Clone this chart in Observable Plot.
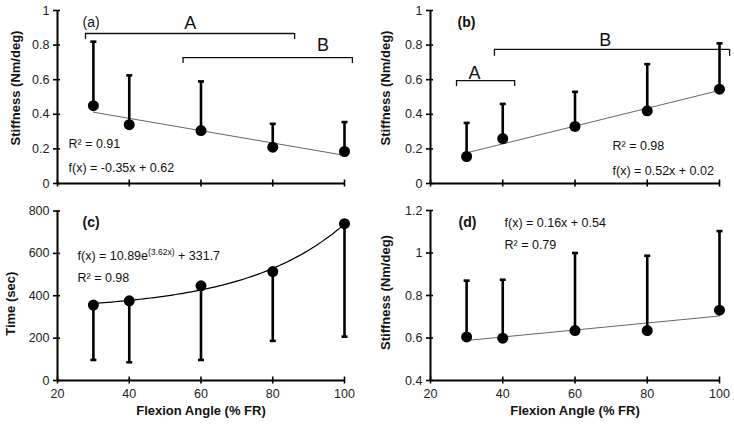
<!DOCTYPE html>
<html>
<head>
<meta charset="utf-8">
<script src="https://cdn.jsdelivr.net/npm/d3@7"></script>
<script src="https://cdn.jsdelivr.net/npm/@observablehq/plot@0.6"></script>
<style>
  html, body { margin: 0; padding: 0; background: #fff; }
  #chart { position: relative; width: 734px; height: 424px; overflow: hidden; }
  #chart svg { position: absolute; }
</style>
</head>
<body>
<div id="chart"></div>
<script>
// ---------- data ----------
const flexion = [30, 40, 60, 80, 100];
const xTicks = [20, 40, 60, 80, 100];

const aMean = [0.45, 0.34, 0.306, 0.21, 0.185];
const aUpper = [0.82, 0.625, 0.59, 0.345, 0.355];

const bMean = [0.156, 0.26, 0.33, 0.42, 0.545];
const bUpper = [0.35, 0.46, 0.53, 0.69, 0.81];

const cMean = [356, 376, 447, 514, 740];
const cLower = [97, 86, 97, 187, 207];

const dMean = [0.605, 0.599, 0.635, 0.635, 0.731];
const dUpper = [0.87, 0.874, 1.0, 0.987, 1.103];

const stiffTicks = [0, 0.2, 0.4, 0.6, 0.8, 1];
const timeTicks = [0, 200, 400, 600, 800];
const dTicks = [0.4, 0.6, 0.8, 1, 1.2];

// exponential fit shown in panel (c): f(x) = 10.89 e^(3.62x) + 331.7, x = fraction of FR
const cFitA = 10.89, cFitB = 3.62, cFitC = 331.7;

// group brackets
const aBrackets = [
  {label: "A", from: 27.8, to: 86.1, level: 0.867, drop: 0.035, labelX: 57, labelY: 0.925},
  {label: "B", from: 55, to: 102.2, level: 0.728, drop: 0.035, labelX: 94, labelY: 0.80}
];
const bBrackets = [
  {label: "B", from: 37.7, to: 102.8, level: 0.775, drop: 0.04, labelX: 68.4, labelY: 0.83},
  {label: "A", from: 27.2, to: 43.3, level: 0.595, drop: 0.035, labelX: 32.2, labelY: 0.64}
];

// ---------- helpers ----------
const font = "'Liberation Sans', Arial, Helvetica, sans-serif";
const capSymbol = {
  draw(ctx, size) {
    const w = Math.sqrt(size / Math.PI);
    ctx.moveTo(-w, 0);
    ctx.lineTo(w, 0);
  }
};
const rows = (means, bounds) => flexion.map((x, i) => ({x, m: means[i], b: bounds[i]}));

function bracketMarks(br) {
  return [
    Plot.ruleY(br, {y: "level", x1: "from", x2: "to", stroke: "#111", strokeWidth: 1.3}),
    Plot.ruleX(br, {x: "from", y1: "level", y2: d => d.level - d.drop, stroke: "#111", strokeWidth: 1.3}),
    Plot.ruleX(br, {x: "to", y1: "level", y2: d => d.level - d.drop, stroke: "#111", strokeWidth: 1.3}),
    Plot.text(br, {x: "labelX", y: "labelY", text: "label", fontSize: 18, fill: "#111"})
  ];
}

function note(text, dx, dy, extra = {}) {
  return Plot.text([text], {frameAnchor: "top-left", textAnchor: "start", dx, dy, fontSize: 12.5, fill: "#111", ...extra});
}

function panel({left, top, width, height, ml, mr, mt, mb, yDomain, yTicks, showX, marks, yLabel, yLabelDx, yLabelDy}) {
  const all = [
    ...marks,
    Plot.ruleX([20], {y1: yDomain[0], y2: yDomain[1], stroke: "#000", strokeWidth: 2}),
    Plot.ruleY([yDomain[0]], {x1: 20, x2: 100, stroke: "#000", strokeWidth: 2}),
    Plot.axisY(yTicks, {tickSize: 7, dx: 3, tickPadding: 4, fontSize: 12.5, fill: "#222", stroke: "#000", strokeWidth: 1.6, tickFormat: d => String(d), label: null}),
    Plot.axisX(xTicks, {tickSize: 7, dy: -3.5, tickPadding: 5.5, fontSize: 12.5, fill: "#222", stroke: "#000", strokeWidth: 1.6, tickFormat: showX ? (d => String(d)) : (() => ""), label: null}),
    Plot.text([yLabel], {frameAnchor: "left", textAnchor: "middle", rotate: -90, dx: yLabelDx, dy: yLabelDy, fontSize: 13, fontWeight: "bold", fill: "#111"})
  ];
  if (showX) {
    all.push(Plot.text(["Flexion Angle (% FR)"], {frameAnchor: "bottom", dy: 34, fontSize: 13, fontWeight: "bold", fill: "#111"}));
  }
  const svg = Plot.plot({
    width, height,
    marginLeft: ml, marginRight: mr, marginTop: mt, marginBottom: mb,
    x: {domain: [20, 100], axis: null},
    y: {domain: yDomain, axis: null},
    style: {fontFamily: font, background: "transparent", overflow: "visible"},
    marks: all
  });
  svg.style.left = left + "px";
  svg.style.top = top + "px";
  return svg;
}

function errorMarks(data) {
  return [
    Plot.ruleX(data, {x: "x", y1: "m", y2: "b", stroke: "#000", strokeWidth: 2.6}),
    Plot.dot(data, {x: "x", y: "b", r: 3, symbol: capSymbol, fill: "none", stroke: "#000", strokeWidth: 2.6}),
    Plot.dot(data, {x: "x", y: "m", r: 5.5, fill: "#000", stroke: "none"})
  ];
}

const chart = document.getElementById("chart");

// (a)
const aData = rows(aMean, aUpper);
chart.appendChild(panel({
  left: 0, top: 0, width: 367, height: 212, ml: 57, mr: 23, mt: 10, mb: 29,
  yDomain: [0, 1], yTicks: stiffTicks, showX: false,
  yLabel: "Stiffness (Nm/deg)", yLabelDx: -42, yLabelDy: -9,
  marks: [
    Plot.linearRegressionY(aData, {x: "x", y: "m", ci: 0, stroke: "#666", strokeWidth: 1}),
    ...errorMarks(aData),
    ...bracketMarks(aBrackets),
    note("(a)", 25, 7, {fontSize: 14}),
    note("R² = 0.91", 11, 129),
    note("f(x) = -0.35x + 0.62", 11, 153)
  ]
}));

// (b)
const bData = rows(bMean, bUpper);
chart.appendChild(panel({
  left: 367, top: 0, width: 367, height: 212, ml: 63, mr: 15, mt: 10, mb: 29,
  yDomain: [0, 1], yTicks: stiffTicks, showX: false,
  yLabel: "Stiffness (Nm/deg)", yLabelDx: -45, yLabelDy: -9,
  marks: [
    Plot.linearRegressionY(bData, {x: "x", y: "m", ci: 0, stroke: "#666", strokeWidth: 1}),
    ...errorMarks(bData),
    ...bracketMarks(bBrackets),
    note("(b)", 27, 7, {fontSize: 14, fontWeight: "bold"}),
    note("R² = 0.98", 182, 131),
    note("f(x) = 0.52x + 0.02", 182, 156)
  ]
}));

// (c)
const cData = rows(cMean, cLower);
const cCurve = d3.range(30, 100.5, 1).map(x => ({x, y: cFitA * Math.exp(cFitB * x / 100) + cFitC}));
const svgC = panel({
  left: 0, top: 200, width: 367, height: 224, ml: 57, mr: 23, mt: 10.5, mb: 44,
  yDomain: [0, 800], yTicks: timeTicks, showX: true,
  yLabel: "Time (sec)", yLabelDx: -47, yLabelDy: 8,
  marks: [
    Plot.line(cCurve, {x: "x", y: "y", stroke: "#000", strokeWidth: 1.2, curve: "basis"}),
    ...errorMarks(cData),
    note("(c)", 25, 6.5, {fontSize: 14, fontWeight: "bold"}),
    note("f(x) = 10.89e(3.62x) + 331.7", 20, 40.5),
    note("R² = 0.98", 20, 62.5)
  ]
});
chart.appendChild(svgC);
d3.select(svgC).selectAll("text").filter(function () { return this.textContent.includes("10.89e"); })
  .each(function () {
    const t = d3.select(this);
    t.text(null);
    t.append("tspan").text("f(x) = 10.89e");
    t.append("tspan").attr("dy", "-5").attr("font-size", "8.5").text("(3.62x)");
    t.append("tspan").attr("dy", "5").text(" + 331.7");
  });

// (d)
const dData = rows(dMean, dUpper);
chart.appendChild(panel({
  left: 367, top: 200, width: 367, height: 224, ml: 63, mr: 15, mt: 10, mb: 44,
  yDomain: [0.4, 1.2], yTicks: dTicks, showX: true,
  yLabel: "Stiffness (Nm/deg)", yLabelDx: -45, yLabelDy: -3,
  marks: [
    Plot.linearRegressionY(dData, {x: "x", y: "m", ci: 0, stroke: "#666", strokeWidth: 1}),
    ...errorMarks(dData),
    note("(d)", 28, 7, {fontSize: 14, fontWeight: "bold"}),
    note("f(x) = 0.16x + 0.54", 74, 8),
    note("R² = 0.79", 74, 30)
  ]
}));
</script>
</body>
</html>
